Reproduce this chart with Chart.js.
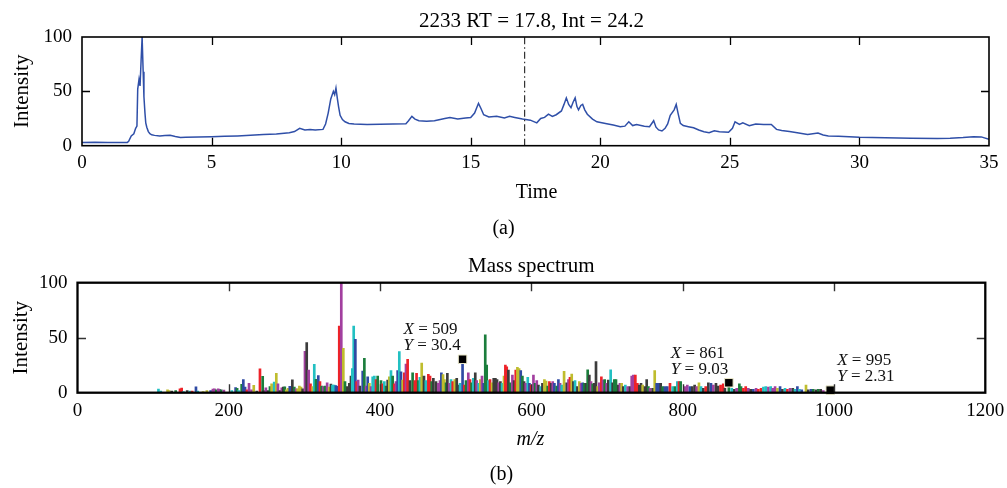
<!DOCTYPE html>
<html><head><meta charset="utf-8">
<script src="https://cdn.jsdelivr.net/npm/chart.js@4.4.1/dist/chart.umd.min.js"></script>
<style>
html,body{margin:0;padding:0;background:#fff;}
#wrap{position:relative;width:1007px;height:488px;overflow:hidden;background:#fff;}
canvas{position:absolute;left:0;}
#c1{top:0;}
#c2{top:240px;}
</style></head><body>
<div id="wrap"><canvas id="c1" width="1007" height="240"></canvas><canvas id="c2" width="1007" height="248"></canvas></div>
<script>
// ---------- Data: chromatogram (a) ----------
const chromTitle = "2233 RT = 17.8, Int = 24.2";
const timeMin = [0,0.5,1.0,1.5,1.75,1.8,1.9,2.0,2.07,2.12,2.15,2.2,2.24,2.28,2.32,2.36,2.39,2.43,2.46,2.5,2.56,2.62,2.69,2.8,3.0,3.2,3.4,3.6,3.8,4.0,4.5,5.0,5.5,6.0,6.5,7.0,7.5,8.0,8.2,8.4,8.6,8.8,9.0,9.3,9.4,9.5,9.6,9.7,9.75,9.8,9.85,9.9,9.96,10.05,10.15,10.3,10.5,11,11.5,12,12.5,12.6,12.73,12.85,13.0,13.3,13.6,14.0,14.2,14.5,14.8,15.0,15.15,15.3,15.4,15.5,15.7,16.0,16.3,16.5,16.7,17.0,17.3,17.55,17.7,17.85,18.0,18.15,18.3,18.5,18.6,18.69,18.78,18.87,18.95,19.03,19.1,19.16,19.25,19.32,19.4,19.5,19.7,19.87,20.2,20.5,20.77,20.95,21.1,21.25,21.4,21.7,21.9,22.06,22.15,22.25,22.38,22.5,22.6,22.7,22.85,22.93,23.0,23.09,23.2,23.4,23.6,23.8,24.0,24.2,24.4,24.6,24.95,25.1,25.2,25.37,25.5,25.75,26.0,26.3,26.6,26.8,27.0,27.3,27.6,28.0,28.4,28.6,28.8,29.2,30.0,31.0,32.0,33.0,33.5,34.0,34.4,34.7,35.0];
const chromIntensity = [3,3.1,2.9,3,3,4,9,11,16,18,52,61,55,78,100,68,45,30,21,17,13,11,10,9.5,9,9.4,9.6,8.5,7.6,7.8,8,8.3,8.6,9,9.6,10.2,10.8,12,13,16,14.5,14.8,14.5,15,20,30,43,50,47,53,44,36,28,24,22,20.5,20,19.5,19.8,20,20.3,23,27,24.5,23,22.5,23,25,26,24.5,25.5,26,30,39,34,28.5,26.5,27,25.5,27,26,24.5,23.5,21,25,26,29,27,28.5,32,38,44,38,35,40,44,36,33,37,38,33,29,24.5,22,20.5,19,17.5,18,22,18.5,19.5,18,17.5,23,17,14.5,13.5,16,20,28,33,38,30,20.5,18.5,17.5,16.5,14.4,12.8,12,13.8,12.8,12.3,16,22,19.5,21,18.4,20,19.5,19.5,15,14,13,12,10.4,11.6,9.8,9,8.6,7.7,7.2,6.8,6.7,6.9,7.5,8.2,8.1,5.8];
const markerTime = 17.08;
const timeTicks = [0,5,10,15,20,25,30,35];
const intensityTicks = [0,50,100];

// ---------- Data: mass spectrum (b) ----------
const specTitle = "Mass spectrum";
const mzValues = [
107,110,119,121,124.5,129.8,135.5,137.7,140,145,148.5,151.6,156.6,159,166,171,176,179,181,183.5,186,188,190,193.5,
204,209,211,213,217,219.2,221.5,224,226.7,230,233,237,241.2,244.8,246,249,252,254.4,256.6,260,262.8,265,267.6,270,272,274,276,278.4,280.6,284,286.6,289,291,293.3,295.5,297.6,
300.7,303,305.6,308,310.9,313,315.3,318.3,320.5,322.7,324.9,327,330,332.7,335,337,339.3,341.5,343.7,346,348.7,351.4,353.6,356.7,359.3,361.5,363.3,365.1,367.3,369,371,373.3,377,379.2,381.4,383.6,385.8,388,390.2,392.4,394.6,396.8,
401.2,403.4,405.6,407.8,410,412.2,414.4,416.6,418.8,421,423.2,425.4,427.6,429.8,432,434.2,436.4,439.5,443,446,448.2,450.4,452.6,455,458,460.4,463.8,466,468.2,470.4,473.9,477,479.2,481,483.2,485,487.2,488.9,491.6,493.8,496,498.7,
501.3,503.5,505.7,509,511.3,513.5,516.6,518.8,521,523.2,525.8,527.6,530.3,532.5,534.7,536.9,539,540.9,543,545.3,548,550.2,552.4,554.6,556.8,559,561.2,563.8,565.6,567.4,569.6,571.8,574.9,577.1,579.3,581.5,583.7,585.9,588.1,590.3,592.5,595.2,597.4,
599.6,602.7,604.9,607.1,609.3,612.4,614.6,617.2,619.4,621.6,623.8,626,628.2,630.4,633.5,635.7,637.9,640.1,643.2,646.7,649,651,653.3,655.5,657.7,660.8,663.4,665.6,667.8,670,672.2,674.4,676.6,678.8,681,683.2,685.4,687.6,689.8,692.5,694.7,696.9,699.5,
701.7,704.8,707.4,709.6,711.8,714.9,717.1,719.3,721.5,724.2,727.3,730.4,732.6,734.8,737.4,740.1,742.7,744.9,747.1,750.2,752.4,754.6,756.8,760.3,763,765.6,768.2,770.9,773.5,776.6,779.7,783.2,786.7,789.8,792.9,795.1,797.3,
803,806.1,809.6,812.7,815.8,818.4,821.5,824.2,827.3,830.4,833.9,837.4,840.5,844,847,850.1,853.6,855.8,861,864.8,868.3,871.4,874.9,877.1,880.2,883.3,886.8,889.9,893.4,897,900,903.6,906.7,909.8,913.3,916.4,919,922.1,925.2,928.7,931.8,935.3,938.4,941.9,945.5,948.5,951.6,954.3,957.4,963,966,969.6,972.6,976.2,979.3,982.4,985.9,995];
const mzIntensity = [
3.4,1.5,2.7,2,1.5,2,3.5,4.3,1,2,1.5,1.5,5.3,1.5,1,2,2,3.3,3.6,2.7,3.6,3,2.5,2.3,
2,4.7,4,2,7.6,12,5,2.5,8.6,2.5,6.7,1.5,21.8,14.8,2,4.5,2,5.5,8,9.6,17.5,8,2,4.4,5,5.3,2.5,4,5.8,11.8,5,3.5,3.5,6,5,3.5,
37.7,45.5,20.5,8,5.6,25.8,12.2,15.5,10,6,5.5,6,9,5,7.8,7,7,6.4,5.7,60.6,100,40.3,10,5.5,8.5,15,22,60.6,48.5,10,11.5,6,19.7,31.3,6,14.5,8.5,5.5,14.5,15,12,15,
11,8,10,6,11.5,14.5,20,15,8,10,20,37.3,19,11.5,18,26,30.3,11,18,11,17.5,11,14,27,15,11,16.7,15,10,13,10,8.5,11,18,16.5,12,9,17.5,8.5,12,10,12,
13,7,8.5,30.4,7,11,18,12,9,13,18,11,8.5,12,15,8.5,52.5,25.2,11,12,9,13,13,12,9,10,8.5,15,25,23.5,20.5,9,16,11,20.5,23,22,20,15,10,8.5,14,8.5,
7,16,8.5,11,7,5.5,8.5,12,10.5,6,10,8.5,10,8.5,6,12,8.5,7,19.5,9,12,14,17,10,11,5.5,10,8.5,9,8.5,8.5,20.7,16,10,8,8.5,28.2,5.5,9,14.5,11.5,12,8.5,
11.5,20.7,9,12,12,7,8.5,8.5,5.5,7,5.5,5.5,15,16,16,8.5,7,8.5,7,5.5,12,5.5,4,4,20,8.5,8.5,8.5,5.5,5.5,5.5,8.5,5.5,5.5,10,10,10,
5.5,7,5.5,5.5,7,5.5,9,5.5,4,5.5,9,8.5,7,8.5,6,7,8,4,9.03,4,3,4,8,5.5,4,5.5,4,3,3,4,3,4,5,5.5,5,5.5,4,5.5,4,5.5,3,4,3,4,4,3,5.5,3,2.5,7,2.5,3,3,2.5,3,3,2,2.31];
const mzTicks = [0,200,400,600,800,1000,1200];
const tipMz = [509, 861, 995];
const tipIntensity = [30.4, 9.03, 2.31];

// ---------- Styles ----------
const barColorKeys =
 "ccyykgrrck"+"crbcyybmmg"+"mmgm"+
 "cbgcgbbrmm"+"ykrgkmkgyc"+"ymkmkgyybk"+"gmyyyk"+
 "mkmrycgbrg"+"mgmykccbbr"+"mygkkkccbr"+"mkbgmbymcc"+"rg"+
 "grcgkycgrm"+"bcbyrmrkgr"+"rgcykcrrgk"+"kmmbyygkmc"+"ry"+
 "kkcbrgmrgc"+"kmcymbggcr"+"ykkkmkcyrr"+"kgmkryybgk"+"mcb"+
 "rmgmkckyyg"+"rkmbgbmcyk"+"mrykckymbg"+"kgkmgkkymr"+"mgm"+
 "kckggkmykc"+"mkmmrrkkyk"+"kgmkybbkgb"+"brcgcrg"+
 "mmbkkmyckr"+"kbmkkrrkgc"+"kmggrrmkbm"+"rrccmcmmyb"+"kcrmkcbcby"+"kbgkgkmk";
const palette = {b:'#2f4aa3', g:'#1b7d3c', r:'#ee2228', c:'#22c0c2', m:'#a23f9f', y:'#bfbd2e', k:'#3c3c3c'};
const tipOffsetX = [-59, -58, 7];
const SERIF = "'Liberation Serif','Times New Roman',serif";

Chart.defaults.font.family = SERIF;
Chart.defaults.color = '#000';

function setTicks(arr){ return s => { s.ticks = arr.map(v => ({value: v})); }; }
const plainLabel = v => String(v);
function fixX(h){ return s => { s.height = h; s.paddingLeft = 0; s.paddingRight = 0; }; }
function fixY(w){ return s => { s.width = w; s.paddingTop = 0; s.paddingBottom = 0; }; }

function framePlugin(id, o){
  return {
    id,
    afterDatasetsDraw(chart){
      const {ctx, chartArea:a, scales:{x, y}} = chart;
      ctx.save();
      ctx.strokeStyle = o.tickColor; ctx.lineWidth = o.tickWidth;
      ctx.beginPath();
      o.xTicks.forEach(v => {
        const px = Math.round(x.getPixelForValue(v)) + 0.5;
        if (px <= a.left + 2 || px >= a.right - 2) return;
        ctx.moveTo(px, a.top); ctx.lineTo(px, a.top + o.tickLen);
        ctx.moveTo(px, a.bottom); ctx.lineTo(px, a.bottom - o.tickLen);
      });
      o.yTicks.forEach(v => {
        const py = Math.round(y.getPixelForValue(v)) + 0.5;
        if (py <= a.top + 2 || py >= a.bottom - 2) return;
        ctx.moveTo(a.left, py); ctx.lineTo(a.left + o.tickLen, py);
        ctx.moveTo(a.right, py); ctx.lineTo(a.right - o.tickLen, py);
      });
      ctx.stroke();
      ctx.strokeStyle = '#000'; ctx.lineWidth = o.border;
      ctx.strokeRect(a.left, a.top, a.right - a.left, a.bottom - a.top);
      ctx.restore();
    },
    afterDraw(chart){
      const {ctx, chartArea:a} = chart;
      const cx = (a.left + a.right) / 2;
      ctx.save();
      ctx.fillStyle = '#000';
      ctx.textAlign = 'center'; ctx.textBaseline = 'alphabetic';
      ctx.font = o.titleSize + 'px ' + SERIF;
      ctx.fillText(o.title, cx + o.titleDx, a.top + o.titleDy);
      ctx.font = (o.xItalic ? 'italic ' : '') + '20px ' + SERIF;
      ctx.fillText(o.xLabel, cx + o.xLabelDx, a.bottom + o.xLabelDy);
      ctx.font = '20px ' + SERIF;
      ctx.fillText(o.panel, cx + o.panelDx, a.bottom + o.panelDy);
      ctx.save();
      ctx.font = '21px ' + SERIF;
      ctx.translate(o.yLabelX, (a.top + a.bottom) / 2);
      ctx.rotate(-Math.PI / 2);
      ctx.fillText('Intensity', 0, 0);
      ctx.restore();
      ctx.restore();
    }
  };
}

// ---------- Chart (a) ----------
new Chart(document.getElementById('c1'), {
  type: 'line',
  data: {
    datasets: [
      {
        data: timeMin.map((t, i) => ({x: t, y: chromIntensity[i]})),
        borderColor: '#2f4fa8', borderWidth: 1.5, pointRadius: 0, tension: 0, order: 1
      },
      {
        data: [{x: markerTime, y: 0}, {x: markerTime, y: 100}],
        borderColor: '#333', borderWidth: 1.2, borderDash: [7, 3, 1.5, 3], pointRadius: 0, order: 0
      }
    ]
  },
  options: {
    responsive: false, animation: false, events: [],
    layout: {padding: {left: 0, right: 18, top: 37, bottom: 0}},
    plugins: {legend: {display: false}, tooltip: {enabled: false}, title: {display: false}},
    scales: {
      x: {
        type: 'linear', min: 0, max: 35,
        afterBuildTicks: setTicks(timeTicks),
        afterFit: fixX(94.3),
        grid: {display: false, drawTicks: false}, border: {display: false},
        ticks: {padding: 6, font: {size: 19}, color: '#000', maxRotation: 0, callback: plainLabel}
      },
      y: {
        type: 'linear', min: 0, max: 100,
        afterBuildTicks: setTicks(intensityTicks),
        afterFit: fixY(82),
        grid: {display: false, drawTicks: false}, border: {display: false},
        ticks: {padding: 10, font: {size: 19}, color: '#000', callback: plainLabel}
      }
    }
  },
  plugins: [framePlugin('frameA', {
    xTicks: timeTicks, yTicks: intensityTicks, tickLen: 8, tickWidth: 1.3, tickColor: '#000', border: 1.6,
    title: chromTitle, titleSize: 21, titleDx: -4, titleDy: -10,
    xLabel: 'Time', xItalic: false, xLabelDx: 1, xLabelDy: 52,
    panel: '(a)', panelDx: -32, panelDy: 88, yLabelX: 28
  })]
});

// ---------- Chart (b) ----------
const tipPlugin = {
  id: 'tips',
  afterDraw(chart){
    const {ctx, scales:{x, y}} = chart;
    ctx.save();
    ctx.fillStyle = '#111'; ctx.textAlign = 'left'; ctx.textBaseline = 'alphabetic';
    const part = (ital, rest, tx, ty) => {
      ctx.font = 'italic 17px ' + SERIF;
      ctx.fillText(ital, tx, ty);
      const w = ctx.measureText(ital).width;
      ctx.font = '17px ' + SERIF;
      ctx.fillText(rest, tx + w, ty);
    };
    tipMz.forEach((m, i) => {
      const px = x.getPixelForValue(m), py = y.getPixelForValue(tipIntensity[i]);
      const tx = px + tipOffsetX[i];
      part('X', ' = ' + m, tx, py - 25);
      part('Y', ' = ' + tipIntensity[i], tx, py - 9);
    });
    ctx.restore();
  }
};

new Chart(document.getElementById('c2'), {
  type: 'bar',
  data: {
    datasets: [
      {
        type: 'scatter',
        data: tipMz.map((m, i) => ({x: m, y: tipIntensity[i]})),
        pointStyle: 'rect', pointRadius: 6, backgroundColor: '#000',
        borderColor: '#e8e6c8', borderWidth: 1, showLine: false, clip: false, order: 0
      },
      {
        type: 'bar',
        data: mzValues.map((m, i) => ({x: m, y: mzIntensity[i]})),
        backgroundColor: mzValues.map((m, i) => palette[barColorKeys[i] || 'k']),
        borderWidth: 0, barThickness: 2, grouped: false, order: 1
      }
    ]
  },
  options: {
    responsive: false, animation: false, events: [],
    layout: {padding: {left: 0, right: 21.7, top: 42.7, bottom: 0}},
    plugins: {legend: {display: false}, tooltip: {enabled: false}, title: {display: false}},
    scales: {
      x: {
        type: 'linear', min: 0, max: 1200, offset: false,
        afterBuildTicks: setTicks(mzTicks),
        afterFit: fixX(95.3),
        grid: {display: false, drawTicks: false, offset: false}, border: {display: false},
        ticks: {padding: 7, font: {size: 19}, color: '#000', maxRotation: 0, callback: plainLabel}
      },
      y: {
        type: 'linear', min: 0, max: 100,
        afterBuildTicks: setTicks(intensityTicks),
        afterFit: fixY(77.5),
        grid: {display: false, drawTicks: false}, border: {display: false},
        ticks: {padding: 10, font: {size: 19}, color: '#000', callback: plainLabel}
      }
    }
  },
  plugins: [framePlugin('frameB', {
    xTicks: mzTicks, yTicks: intensityTicks, tickLen: 8.5, tickWidth: 1.4, tickColor: '#333', border: 2.3,
    title: specTitle, titleSize: 21, titleDx: 0, titleDy: -11,
    xLabel: 'm/z', xItalic: true, xLabelDx: -1, xLabelDy: 52,
    panel: '(b)', panelDx: -30, panelDy: 87, yLabelX: 27
  }), tipPlugin]
});
</script>
</body></html>
